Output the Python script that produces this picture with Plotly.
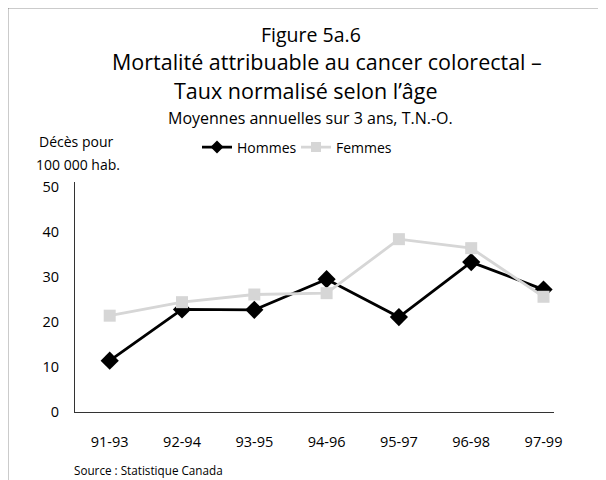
import plotly.graph_objects as go

periods = ["91-93", "92-94", "93-95", "94-96", "95-97", "96-98", "97-99"]
hommes = [11.4, 22.8, 22.7, 29.5, 21.1, 33.3, 27.2]
femmes = [21.4, 24.4, 26.1, 26.4, 38.4, 36.4, 25.6]
y_ticks = [0, 10, 20, 30, 40, 50]

W, H = 606, 480
OFF = 8  # page body margin offset
# plot area in reference page pixels
RL, RR, RT, RB = 75, 554, 182, 412
L, R, T, B = RL - OFF, RR - OFF, RT - OFF, RB - OFF
FONT = "Open Sans"
BLACK = "black"
GREY = "#d6d6d6"

def px(x):
    return (x - OFF - L) / (R - L)

def py(y):
    return (B - (y - OFF)) / (B - T)

fig = go.Figure()
fig.add_trace(go.Scatter(x=periods, y=hommes, name="Hommes", mode="lines+markers",
                         showlegend=False,
                         line=dict(color=BLACK, width=2.8),
                         marker=dict(symbol="diamond", size=14, color=BLACK)))
fig.add_trace(go.Scatter(x=periods, y=femmes, name="Femmes", mode="lines+markers",
                         showlegend=False,
                         line=dict(color=GREY, width=2.8),
                         marker=dict(symbol="square", size=12, color=GREY)))
# legend entries (smaller symbols, as in the reference)
fig.add_trace(go.Scatter(x=[None], y=[None], name="Hommes", mode="lines+markers",
                         legend="legend",
                         line=dict(color=BLACK, width=2.8),
                         marker=dict(symbol="diamond", size=10, color=BLACK)))
fig.add_trace(go.Scatter(x=[None], y=[None], name="Femmes", mode="lines+markers",
                         legend="legend2",
                         line=dict(color=GREY, width=2.8),
                         marker=dict(symbol="square", size=10, color=GREY)))

ann = []
def text(t, x, y, size, anchor="center"):
    ann.append(dict(text=t, x=px(x), y=py(y), xref="paper", yref="paper",
                    showarrow=False, xanchor=anchor, yanchor="middle",
                    font=dict(family=FONT, size=size, color="black")))

text("Figure 5a.6", 311, 35, 19.5)
text("Mortalité attribuable au cancer colorectal –", 327, 62, 21.5)
text("Taux normalisé selon l’âge", 306, 90, 21.5)
text("Moyennes annuelles sur 3 ans, T.N.-O.", 310, 118, 16)
text("Décès pour", 75.5, 142, 14)
text("100 000 hab.", 78, 164, 14)
text("Source : Statistique Canada", 72, 470, 11.7, anchor="left")

shapes = [
    dict(type="line", xref="paper", yref="paper", x0=px(7.5), x1=px(620), y0=py(7.5), y1=py(7.5),
         line=dict(color="#333", width=1.5)),
    dict(type="line", xref="paper", yref="paper", x0=px(7.5), x1=px(7.5), y0=py(7.5), y1=py(500),
         line=dict(color="#333", width=1.5)),
]

leg_common = dict(orientation="h", yanchor="middle", xanchor="left",
                  font=dict(family=FONT, size=14), bgcolor="rgba(0,0,0,0)",
                  itemwidth=30)

fig.update_layout(
    width=W, height=H,
    margin=dict(l=L, r=W - R, t=T, b=H - B),
    paper_bgcolor="white", plot_bgcolor="white",
    font=dict(family=FONT, size=14, color="black"),
    showlegend=True,
    legend=dict(x=px(197), y=py(147.5), **leg_common),
    legend2=dict(x=px(296), y=py(147.5), **leg_common),
    annotations=ann,
    shapes=shapes,
    xaxis=dict(type="category", range=[-0.48, 6.145], showgrid=False, showline=True,
               linecolor="#333", linewidth=1.2, ticks="", ticklabelstandoff=16,
               tickfont=dict(family=FONT, size=14.5), zeroline=False),
    yaxis=dict(range=[0, 51.1], tickvals=y_ticks, showgrid=False, showline=True,
               linecolor="#333", linewidth=1.2, ticks="", ticklabelstandoff=12,
               tickfont=dict(family=FONT, size=14.5), zeroline=False),
)

fig.write_html("out.html")
